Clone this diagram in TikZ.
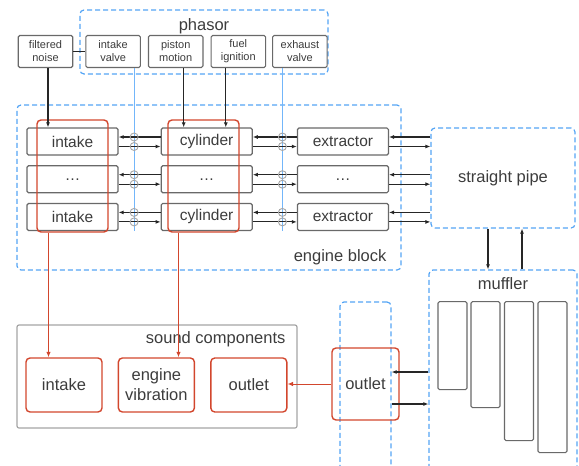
\documentclass[tikz,border=0pt]{standalone}
\usepackage{fontspec}
\setmainfont{Liberation Sans}
\usetikzlibrary{arrows.meta,positioning}

\definecolor{txtgray}{RGB}{60,60,60}
\definecolor{boxgray}{RGB}{105,105,105}
\definecolor{softgray}{RGB}{165,165,165}
\definecolor{dashblue}{RGB}{85,165,245}
\definecolor{lineblue}{RGB}{115,182,250}
\definecolor{engred}{RGB}{210,70,45}

\begin{document}
\begin{tikzpicture}[
    x=1pt, y=-1pt,
    font=\fontsize{15.5}{19}\selectfont,
    text=txtgray,
    unit/.style={
        rectangle,
        rounded corners=1.5pt,
        draw=boxgray,
        line width=1.2pt,
        minimum width=91pt,
        minimum height=27pt,
        inner sep=0pt
    },
    param/.style={
        rectangle,
        rounded corners=1.5pt,
        draw=boxgray,
        line width=1.1pt,
        minimum width=54.5pt,
        minimum height=32pt,
        inner sep=0pt,
        align=center,
        font=\fontsize{11}{13}\selectfont
    },
    group/.style={
        rectangle,
        rounded corners=4pt,
        draw=dashblue,
        line width=1.2pt,
        dash pattern=on 5pt off 3pt,
        inner sep=0pt
    },
    redbox/.style={
        rectangle,
        rounded corners=4pt,
        draw=engred,
        line width=1.4pt,
        inner sep=0pt,
        align=center
    },
    tube/.style={
        rectangle,
        rounded corners=1.5pt,
        draw=boxgray,
        line width=1.2pt,
        minimum width=29pt,
        inner sep=0pt
    },
    title/.style={font=\fontsize{16.5}{20}\selectfont, inner sep=0pt},
    junction/.style={circle, draw=softgray, line width=0.9pt, minimum size=8pt, inner sep=0pt},
    arrow/.style={-{Latex[length=5pt,width=4pt]}, line width=1.1pt, draw=black!85},
    redarrow/.style={-{Latex[length=5.5pt,width=4.5pt]}, line width=1pt, draw=engred},
    valve/.style={draw=lineblue, line width=1pt}
]
\useasboundingbox (0,0) rectangle (579,466);
\clip (0,0) rectangle (579,466);

% phasor
\node[group, minimum width=248pt, minimum height=64pt] (phasor) at (204,42) {};
\node[title, anchor=base] (phasorlbl) at ([yshift=-21pt]phasor.north) {phasor};
\node[param] (fn) at (45.5,51.5) {filtered\\noise};
\node[param, right=12pt of fn] (iv) {intake\\valve};
\node[param, right=7pt of iv] (pm) {piston\\motion};
\node[param, right=7pt of pm] (fi) {fuel\\ignition};
\node[param, right=6pt of fi] (ev) {exhaust\\valve};

% engine block
\node[group, minimum width=384pt, minimum height=165pt] (engine) at (209,187.5) {};
\node[title, anchor=base east] (enginelbl) at ([shift={(-15pt,9pt)}]engine.south east) {engine block};

\node[unit] (int1) at (72.5,141.5) {intake};
\node[unit, below=9.5pt of int1] (int2) {\dots};
\node[unit, below=9.5pt of int2] (int3) {intake};
\node[unit, right=42pt of int1] (cyl1) {cylinder};
\node[unit, right=42pt of int2] (cyl2) {\dots};
\node[unit, right=42pt of int3] (cyl3) {cylinder};
\node[unit, right=44pt of cyl1] (ext1) {extractor};
\node[unit, right=44pt of cyl2] (ext2) {\dots};
\node[unit, right=44pt of cyl3] (ext3) {extractor};

\node[redbox, minimum width=71pt, minimum height=112pt] (intgrp) at (72.5,176) {};
\node[redbox, minimum width=71pt, minimum height=112pt] (cylgrp) at (203.5,176) {};

% exhaust side
\node[group, minimum width=144pt, minimum height=100pt, font=\fontsize{16.5}{20}\selectfont] (pipe) at (503,178) {straight pipe};
\node[group, minimum width=148pt, minimum height=205pt] (muffler) at (503,372.5) {};
\node[title, anchor=base] (mufflerlbl) at ([yshift=-20pt]muffler.north) {muffler};
\foreach \x/\h [count=\k] in {452.5/88, 485.5/106, 519/139, 552.5/151}
    \node[tube, minimum height=\h pt, anchor=north] (tube\k) at (\x,301) {};

\node[group, minimum width=51pt, minimum height=175pt] (outbox) at (365.5,389.5) {};
\node[redbox, minimum width=67pt, minimum height=72pt, font=\fontsize{16.5}{20}\selectfont] (outred) at (365.5,384) {outlet};

% sound components
\node[rectangle, rounded corners=2pt, draw=softgray, line width=1.2pt, minimum width=280pt, minimum height=103pt] (snd) at (157,376.5) {};
\node[title, anchor=base east] (sndlbl) at ([shift={(-12pt,-19pt)}]snd.north east) {sound components};
\node[redbox, minimum width=76pt, minimum height=54pt, font=\fontsize{16.5}{20}\selectfont] (sint) at (64,385) {intake};
\node[redbox, minimum width=76pt, minimum height=54pt, font=\fontsize{16.5}{20}\selectfont, right=15pt of sint] (svib) {engine\\vibration};
\node[redbox, minimum width=76pt, minimum height=54pt, font=\fontsize{16.5}{20}\selectfont, right=15pt of svib] (sout) {outlet};

% control inputs
\draw[line width=1.1pt, draw=black!85] (fn.east) -- (iv.west);
\coordinate (fnx) at ([xshift=2.5pt]fn.south);
\coordinate (pmx) at ([xshift=8pt]pm.south);
\coordinate (fix) at ([xshift=-12.5pt]fi.south);
\coordinate (ivx) at ([xshift=21pt]iv.south);
\coordinate (evx) at ([xshift=-17.5pt]ev.south);
\draw[arrow] (fnx) -- (fnx |- int1.north);
\draw[arrow] (pmx) -- (pmx |- cyl1.north);
\draw[arrow] (fix) -- (fix |- cyl1.north);
\draw[valve] (ivx) -- (ivx |- int3.south);
\draw[valve] (evx) -- (evx |- int3.south);

% waves between parts
\foreach \i in {1,2,3} {
    \draw[arrow] ([yshift=4.5pt]cyl\i.west) -- ([yshift=4.5pt]int\i.east);
    \draw[arrow] ([yshift=-5pt]int\i.east) -- ([yshift=-5pt]cyl\i.west);
    \draw[arrow] ([yshift=4.5pt]ext\i.west) -- ([yshift=4.5pt]cyl\i.east);
    \draw[arrow] ([yshift=-5pt]cyl\i.east) -- ([yshift=-5pt]ext\i.west);
    \coordinate (up\i) at ([yshift=4.5pt]ext\i.east);
    \coordinate (dn\i) at ([yshift=-5pt]ext\i.east);
    \draw[arrow] (up\i -| pipe.west) -- (up\i);
    \draw[arrow] (dn\i) -- (dn\i -| pipe.west);
    \node[junction] (ja\i) at (ivx |- up\i) {};
    \node[junction] (jb\i) at (ivx |- dn\i) {};
    \node[junction] (jc\i) at (evx |- up\i) {};
    \node[junction] (jd\i) at (evx |- dn\i) {};
}

\coordinate (pd) at ([xshift=-15pt]pipe.south);
\coordinate (pu) at ([xshift=19pt]pipe.south);
\draw[arrow] (pd) -- (pd |- muffler.north);
\draw[arrow] (pu |- muffler.north) -- (pu);

\coordinate (oi) at ([yshift=17.5pt]outbox.east);
\coordinate (oo) at ([yshift=-14.5pt]outbox.east);
\draw[arrow] (oi -| muffler.west) -- (oi);
\draw[arrow] (oo) -- (oo -| muffler.west);

% sound taps
\coordinate (ix) at ([xshift=-24pt]intgrp.south);
\coordinate (cx) at ([xshift=-25pt]cylgrp.south);
\draw[redarrow] (ix) -- (ix |- sint.north);
\draw[redarrow] (cx) -- (cx |- svib.north);
\draw[redarrow] (outred.west) -- (outred.west -| sout.east);

\end{tikzpicture}
\end{document}
